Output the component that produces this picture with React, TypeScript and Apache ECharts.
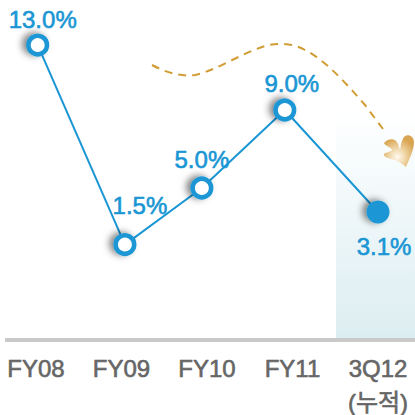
import React, { useEffect, useRef } from "react";
import * as echarts from "echarts";

const categories = ["FY08", "FY09", "FY10", "FY11", "3Q12\n(누적)"];
const valueLabels = ["13.0%", "1.5%", "5.0%", "9.0%", "3.1%"];
// heights of the markers
const plottedValues = [13.0, 1.5, 4.76, 9.26, 3.38];
// horizontal marker positions, in category units
const plottedPositions = [0.02, 1.04, 1.94, 2.91, 4.0];
const labelOffsets = [[5, 3], [15, -11], [0, 0], [7, 2], [6, 63]];

const BLUE = "#1a96d4";
const FONT = "'Liberation Sans', 'Noto Sans CJK KR', sans-serif";

const trendPath =
  "M152 65 C165 72 180 77 195 75 C215 71 240 54 265 46 C280 42 295 44 305 50 C325 60 345 82 365 105 L383 129";
const petalPath =
  "M384 143 C387 139 393 138 396 141 C399 144 399 148 400 150 C401 146 401 140 405 136 C409 134 414 137 414 142 C414 150 409 160 406 167 C402 163 396 160 391 159 C387 158 383 156 384 154 C386 152 391 152 392 150 C391 147 385 146 384 143 Z";

echarts.graphic.registerShape("trendCurve", echarts.graphic.extendPath(trendPath, {}));
echarts.graphic.registerShape("petal", echarts.graphic.extendPath(petalPath, {}));

export default function App() {
  const ref = useRef<HTMLDivElement>(null);
  useEffect(() => {
    document.body.style.margin = "0";
    const chart = echarts.init(ref.current!, undefined, { renderer: "svg" });
    chart.setOption({
      animation: false,
      grid: { left: -6.75, width: 427.5, top: 0, height: 340, outerBoundsMode: "none", containLabel: false },
      xAxis: [
        {
          type: "category",
          data: categories,
          boundaryGap: true,
          axisLine: { show: false },
          axisTick: { show: false },
          axisLabel: {
            color: "#666666",
            fontFamily: FONT,
            fontSize: 24,
            lineHeight: 34,
            margin: 11,
            interval: 0,
            textBorderColor: "#666666",
            textBorderWidth: 0.6,
          },
        },
        { type: "value", min: -0.5, max: 4.5, show: false },
      ],
      yAxis: { type: "value", min: -4, max: 15.6, show: false },
      graphic: [
        {
          type: "rect",
          z: -1,
          silent: true,
          shape: { x: 336, y: 110, width: 79, height: 229 },
          style: {
            fill: {
              type: "linear",
              x: 0,
              y: 0,
              x2: 0,
              y2: 1,
              colorStops: [
                { offset: 0, color: "#ffffff" },
                { offset: 0.25, color: "#f6fbfc" },
                { offset: 1, color: "#dcedf1" },
              ],
            },
          },
        },
        {
          type: "rect",
          silent: true,
          shape: { x: 5, y: 338, width: 410, height: 4 },
          style: { fill: "#c9c9c9" },
        },
        {
          type: "trendCurve",
          silent: true,
          style: { fill: "none", stroke: "#d09c33", lineWidth: 2, lineDash: [8, 6] },
        },
        {
          type: "petal",
          silent: true,
          style: {
            fill: {
              type: "radial",
              x: 0.45,
              y: 0.68,
              r: 0.6,
              colorStops: [
                { offset: 0, color: "#fffaf2" },
                { offset: 0.5, color: "#eed2a0" },
                { offset: 1, color: "#d9a552" },
              ],
            },
          },
        },
      ],
      series: [
        {
          type: "line",
          xAxisIndex: 1,
          data: plottedValues.map((v, i) => ({
            value: [plottedPositions[i], v],
            symbolSize: i === 4 ? 23 : 18.5,
            itemStyle:
              i === 4
                ? { color: BLUE, borderWidth: 0, shadowColor: "rgba(0,0,0,0.5)", shadowBlur: 7, shadowOffsetX: -4, shadowOffsetY: -1 }
                : { color: "#ffffff", borderColor: BLUE, borderWidth: 4.6, shadowColor: "rgba(0,0,0,0.5)", shadowBlur: 7, shadowOffsetX: -4, shadowOffsetY: -1 },
            label: {
              show: true,
              position: "top",
              offset: labelOffsets[i],
              formatter: valueLabels[i],
              color: BLUE,
              fontFamily: FONT,
              fontSize: 24,
              textBorderColor: BLUE,
              textBorderWidth: 0.6,
            },
          })),
          symbol: "circle",
          showSymbol: true,
          lineStyle: { color: BLUE, width: 2 },
          clip: false,
        },
      ],
    });
    return () => chart.dispose();
  }, []);
  return <div ref={ref} style={{ width: 415, height: 415 }} />;
}
